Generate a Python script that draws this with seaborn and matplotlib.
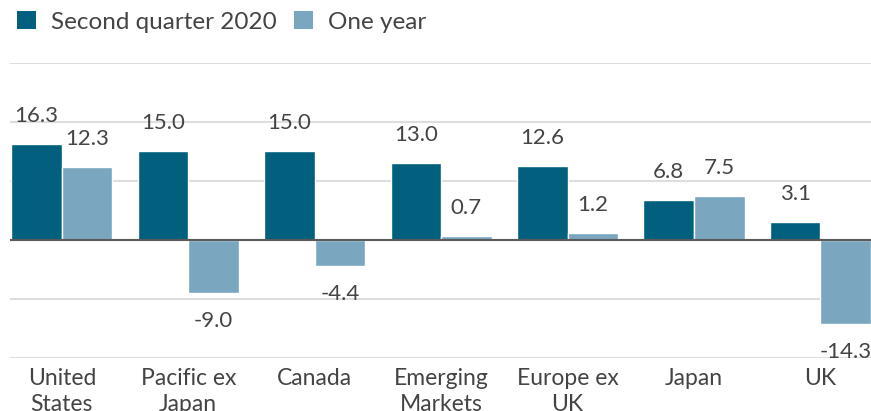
import matplotlib
matplotlib.use("Agg")
import matplotlib.pyplot as plt
from matplotlib.patches import Patch
import seaborn as sns
import pandas as pd

categories = ["United\nStates", "Pacific ex\nJapan", "Canada", "Emerging\nMarkets",
              "Europe ex\nUK", "Japan", "UK"]
series_names = ["Second quarter 2020", "One year"]
q2_2020 = [16.3, 15.0, 15.0, 13.0, 12.6, 6.8, 3.1]
one_year = [12.3, -9.0, -4.4, 0.7, 1.2, 7.5, -14.3]
colors = ["#00607e", "#7aa7bf"]

df = pd.DataFrame({
    "category": categories * 2,
    "series": [series_names[0]] * len(categories) + [series_names[1]] * len(categories),
    "value": q2_2020 + one_year,
})

sns.set_theme(style="white")
plt.rcParams["font.family"] = ["Lato", "DejaVu Sans"]

fig = plt.figure(figsize=(8.71, 4.11), dpi=100)
ax = fig.add_axes([0.0115, 0.129, 0.9885, 0.718])

sns.barplot(data=df, x="category", y="value", hue="series", hue_order=series_names,
            palette=colors, width=0.8, saturation=1, ax=ax, legend=False, errorbar=None)

ax.set_xlim(-0.41, 6.4)
ax.set_ylim(-20, 30)
ax.set_yticks([-20, -10, 0, 10, 20, 30])
ax.yaxis.grid(True, color="#dedede", linewidth=1.5)
ax.set_axisbelow(True)
ax.axhline(0, color="#5a5a5a", linewidth=1.5, zorder=3)
ax.tick_params(axis="y", left=False, labelleft=False)
ax.tick_params(axis="x", bottom=False, pad=1, labelsize=16.5, labelcolor="#444444")
for lbl in ax.get_xticklabels():
    lbl.set_linespacing(1.3)
for s in ax.spines.values():
    s.set_visible(False)
ax.set_xlabel("")
ax.set_ylabel("")

for cont in ax.containers:
    ax.bar_label(cont, fmt="%.1f", padding=13, fontsize=16, color="#444444")

handles = [Patch(facecolor=c, edgecolor="none") for c in colors]
fig.legend(handles, series_names, loc="upper left", bbox_to_anchor=(0.0, 1.015), ncol=2,
           frameon=False, fontsize=17.5, labelcolor="#444444", handlelength=0.8,
           handleheight=0.8, handletextpad=0.6, columnspacing=0.7, borderaxespad=0.3)

fig.savefig("out.png", dpi=100)
